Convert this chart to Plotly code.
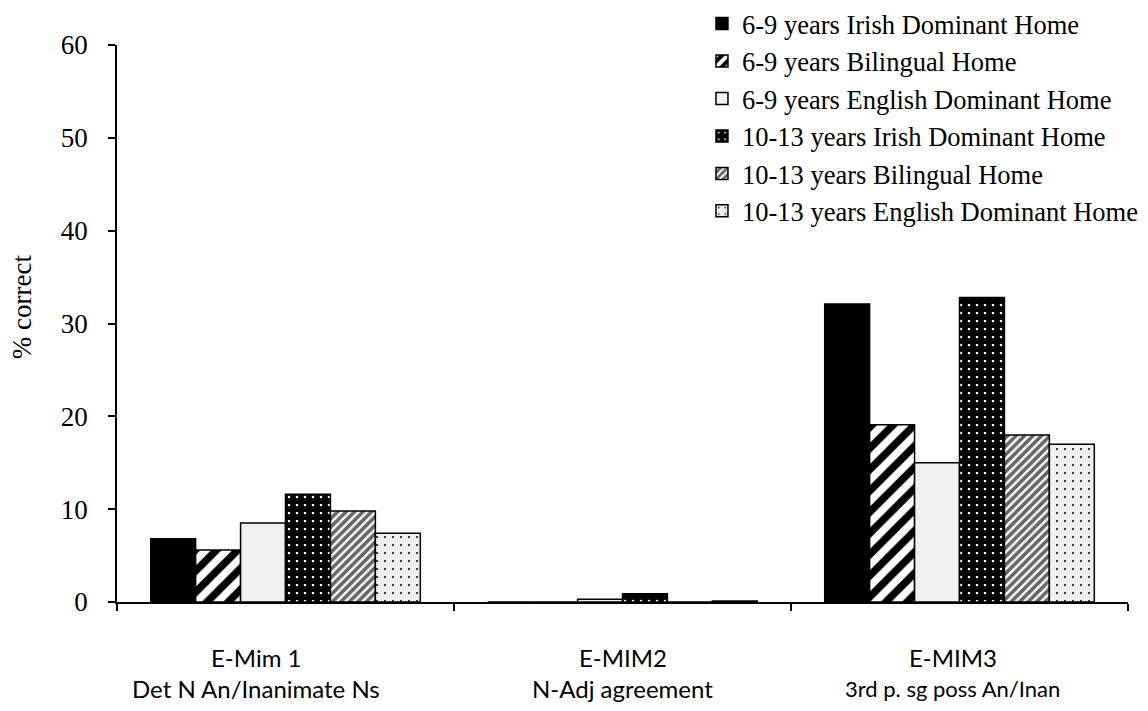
import plotly.graph_objects as go

categories = ["E-Mim 1", "E-MIM2", "E-MIM3"]
category_subtitles = ["Det N An/Inanimate Ns", "N-Adj agreement", "3rd p. sg poss An/Inan"]

series_names = ["6-9 years Irish Dominant Home",
                "6-9 years Bilingual Home",
                "6-9 years English Dominant Home",
                "10-13 years Irish Dominant Home",
                "10-13 years Bilingual Home",
                "10-13 years English Dominant Home"]

irish_6_9 = [6.8, 0.0, 32.1]
bilingual_6_9 = [5.6, 0.0, 19.1]
english_6_9 = [8.5, 0.3, 15.0]
irish_10_13 = [11.6, 0.9, 32.8]
bilingual_10_13 = [9.8, 0.0, 18.0]
english_10_13 = [7.4, 0.1, 17.0]

series_values = [irish_6_9, bilingual_6_9, english_6_9,
                 irish_10_13, bilingual_10_13, english_10_13]

y_ticks = [0, 10, 20, 30, 40, 50, 60]

# label styling (positions / sizes kept separate from data)
label_xshift = [-30, 0, -7]
subtitle_sizes = [24, 24, 22]

styles = [
    dict(color="black", pattern=dict(shape="")),
    dict(color="black", pattern=dict(shape="/", fgcolor="white", fgopacity=1, bgcolor="black", size=15, solidity=0.5, fillmode="overlay")),
    dict(color="#f0f0f0", pattern=dict(shape="")),
    dict(color="black", pattern=dict(shape=".", fgcolor="white", fgopacity=1, bgcolor="black", size=8, solidity=0.08, fillmode="overlay")),
    dict(color="white", pattern=dict(shape="/", fgcolor="#666666", fgopacity=1, bgcolor="white", size=6, solidity=0.6, fillmode="overlay")),
    dict(color="#f0f0f0", pattern=dict(shape=".", fgcolor="black", fgopacity=1, bgcolor="#f0f0f0", size=8, solidity=0.05, fillmode="overlay")),
]

fig = go.Figure()
for name, vals, st in zip(series_names, series_values, styles):
    fig.add_trace(go.Bar(
        name=name, x=categories, y=vals,
        marker=dict(color=st["color"], pattern=st["pattern"],
                    line=dict(color="black", width=1.5)),
    ))

# category labels (two lines)
for cat, sub, fs, dx in zip(categories, category_subtitles, subtitle_sizes, label_xshift):
    fig.add_annotation(x=cat, xref="x", y=-0.1005, yref="paper", xshift=dx,
                       text=cat, showarrow=False, xanchor="center", yanchor="middle",
                       font=dict(family="Lato", size=24, color="black"))
    fig.add_annotation(x=cat, xref="x", y=-0.1544, yref="paper", xshift=dx,
                       text=sub, showarrow=False, xanchor="center", yanchor="middle",
                       font=dict(family="Lato", size=fs, color="black"))

# y-axis title
fig.add_annotation(x=-0.094, xref="paper", y=0.531, yref="paper",
                   text="% correct", textangle=-90, showarrow=False,
                   xanchor="center", yanchor="middle",
                   font=dict(family="Liberation Serif", size=27, color="black"))

fig.update_layout(
    width=1140, height=703,
    paper_bgcolor="white", plot_bgcolor="white",
    margin=dict(l=109, r=20, t=37, b=109, autoexpand=False),
    barmode="group", bargap=0.2, bargroupgap=0,
    font=dict(family="Liberation Serif", color="black"),
    legend=dict(x=0.5786, y=1.081, xanchor="left", yanchor="top",
                font=dict(family="Liberation Serif", size=26.5, color="black"),
                tracegroupgap=0, itemwidth=30, bgcolor="rgba(0,0,0,0)"),
    showlegend=True,
)
fig.update_xaxes(
    showline=True, linecolor="black", linewidth=1.5,
    ticks="outside", tickson="boundaries", ticklen=7, tickcolor="black", tickwidth=1.5,
    showticklabels=False,
    showgrid=False, zeroline=False,
)
fig.update_yaxes(
    range=[0, 60], tickvals=y_ticks,
    showline=True, linecolor="black", linewidth=1.5,
    ticks="outside", ticklen=7, tickcolor="black", tickwidth=1.5,
    tickfont=dict(family="Liberation Serif", size=27, color="black"),
    ticklabelstandoff=15,
    showgrid=False, zeroline=False,
)

fig.write_html("out.html")
